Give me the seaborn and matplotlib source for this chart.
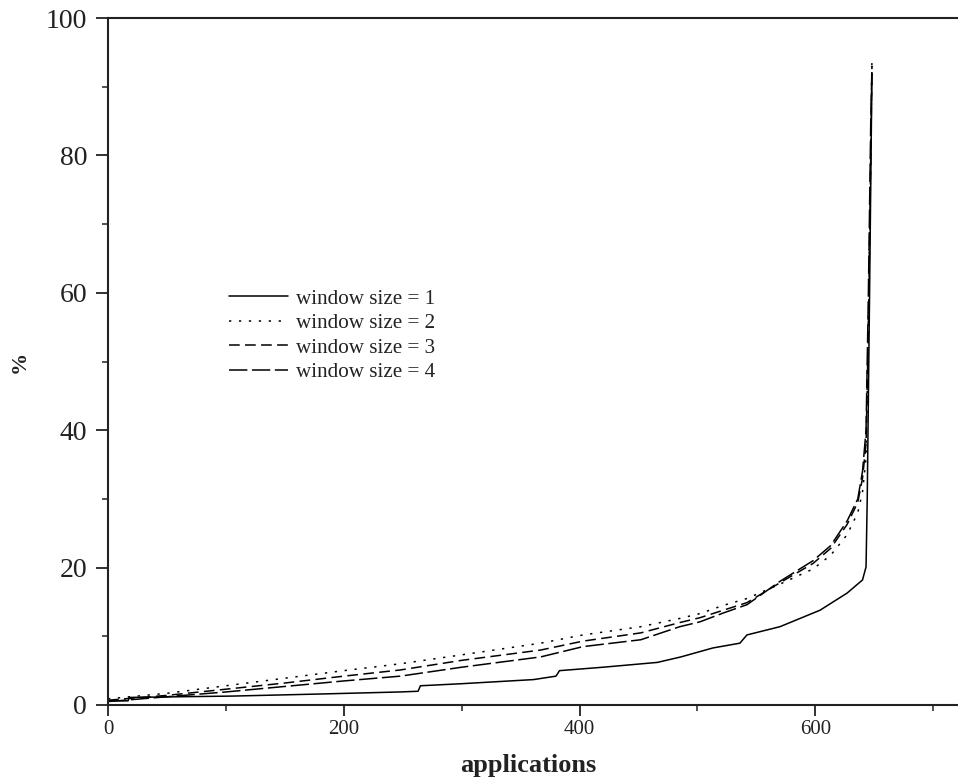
import pandas as pd
import numpy as np
import seaborn as sns
import matplotlib.pyplot as plt
from matplotlib.ticker import MultipleLocator

sns.set_theme(style="ticks")
plt.rcParams['font.family'] = ['Liberation Serif', 'DejaVu Serif']

# window size = 1 (solid)
x_w1 = [0, 17, 18, 60, 106, 180, 248, 263, 265, 300, 361, 380, 383, 420, 466, 486,
        513, 536, 542, 570, 604, 627, 640, 643, 644, 646, 648]
y_w1 = [0.6, 0.6, 1.1, 1.2, 1.3, 1.6, 1.9, 2.0, 2.8, 3.1, 3.7, 4.2, 5.0, 5.5, 6.2, 7.0,
        8.3, 9.0, 10.2, 11.4, 13.8, 16.3, 18.2, 20.1, 30, 60, 92]

# window sizes 2..4 share the same x readings
x_w = [0, 50, 100, 150, 200, 248, 300, 367, 403, 452, 485, 502, 522, 542, 570, 598,
       613, 627, 636, 640, 643, 645, 647, 648]
y_w2 = [0.9, 1.7, 2.8, 3.9, 5.0, 6.0, 7.3, 9.0, 10.2, 11.4, 12.6, 13.3, 14.5, 15.5, 17.6, 19.8,
        21.8, 24.8, 28.0, 31.0, 36.0, 55.0, 80.0, 94.0]
y_w3 = [0.7, 1.4, 2.3, 3.2, 4.2, 5.1, 6.5, 8.0, 9.3, 10.5, 12.0, 12.7, 13.8, 14.9, 17.8, 20.6,
        22.8, 26.3, 29.5, 33.0, 38.0, 55.0, 80.0, 93.0]
y_w4 = [0.5, 1.2, 1.9, 2.7, 3.5, 4.2, 5.5, 7.0, 8.5, 9.5, 11.4, 12.1, 13.4, 14.6, 18.0, 21.0,
        23.2, 26.8, 30.0, 34.0, 40.0, 60.0, 85.0, 93.0]

labels = ['window size = 1', 'window size = 2', 'window size = 3', 'window size = 4']

df = pd.concat([
    pd.DataFrame({'applications': x_w1, 'pct': y_w1, 'window': labels[0]}),
    pd.DataFrame({'applications': x_w, 'pct': y_w2, 'window': labels[1]}),
    pd.DataFrame({'applications': x_w, 'pct': y_w3, 'window': labels[2]}),
    pd.DataFrame({'applications': x_w, 'pct': y_w4, 'window': labels[3]}),
], ignore_index=True)

fig = plt.figure(figsize=(9.58, 7.83), dpi=100)
ax = fig.add_axes([108/958, 78/783, 850/958, 687/783])

sns.lineplot(data=df, x='applications', y='pct', style='window', style_order=labels,
             dashes=['', (1.5, 5), (7, 3.5), (12, 3)], color='black', linewidth=1.1,
             estimator=None, sort=False, ax=ax)

ax.set_xlim(0, 721)
ax.set_ylim(0, 100)
ax.xaxis.set_major_locator(MultipleLocator(200))
ax.xaxis.set_minor_locator(MultipleLocator(100))
ax.yaxis.set_major_locator(MultipleLocator(20))
ax.yaxis.set_minor_locator(MultipleLocator(10))

ax.tick_params(axis='y', which='major', labelsize=20, length=9, width=1.3, pad=6,
               direction='out', colors='#222222')
ax.tick_params(axis='y', which='minor', length=4.5, width=1.1, direction='out', color='#222222')
ax.tick_params(axis='x', which='major', labelsize=15, length=8, width=1.3, pad=3,
               direction='out', colors='#222222')
ax.tick_params(axis='x', which='minor', length=4, width=1.1, direction='out', color='#222222')

for side in ['left', 'bottom', 'top']:
    ax.spines[side].set_linewidth(1.5)
    ax.spines[side].set_color('#222222')
ax.spines['right'].set_visible(False)

ax.set_xlabel('applications', fontsize=19, fontweight='bold', color='#222222')
ax.set_ylabel('%', fontsize=16, fontweight='bold', color='#222222')
ax.xaxis.set_label_coords(0.494, -0.072)
ax.yaxis.set_label_coords(-0.092, 0.5)

leg = ax.legend(loc='upper left', bbox_to_anchor=(229/958, 1 - 289/783),
                bbox_transform=fig.transFigure, frameon=False, fontsize=15.2,
                handlelength=2.8, handletextpad=0.35, labelspacing=0.22,
                borderpad=0, borderaxespad=0)
for t in leg.get_texts():
    t.set_color('#222222')

fig.savefig('out.png', dpi=100)
